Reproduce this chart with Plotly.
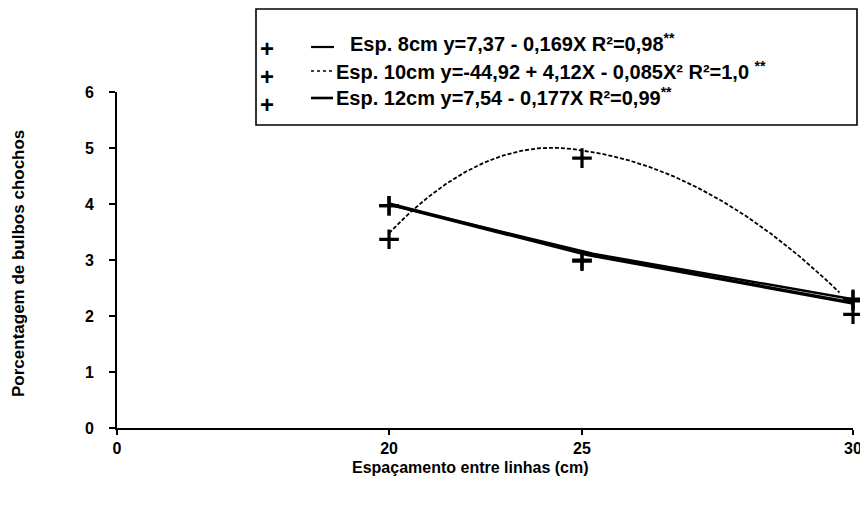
import numpy as np
import plotly.graph_objects as go

# ---------------- data ----------------
spacing_cm = [20, 25, 30]
esp8_obs = [3.97, 3.00, 2.30]
esp10_obs = [3.37, 4.82, 2.03]
esp12_obs = [3.97, 2.98, 2.27]

fit8 = [7.37, -0.169]            # a + bX
fit10 = [-44.92, 4.12, -0.085]   # a + bX + cX^2
fit12 = [7.54, -0.177]           # a + bX

x_tick_values = [0, 20, 25, 30]
x_tick_labels = ["0", "20", "25", "30"]
y_tick_values = [0, 1, 2, 3, 4, 5, 6]

legend_texts = [
    "Esp. 8cm y=7,37 - 0,169X R²=0,98<sup>**</sup>",
    "Esp. 10cm y=-44,92 + 4,12X - 0,085X² R²=1,0 <sup>**</sup>",
    "Esp. 12cm y=7,54 - 0,177X R²=0,99<sup>**</sup>",
]

# ---------------- layout geometry ----------------
W, H = 860, 507
ML, MR, MT, MB = 117, 7, 92, 79
PW, PH = W - ML - MR, H - MT - MB

# the original x axis is not linear: ticks sit at these fractions of the axis
x_tick_frac = [0.0, 0.3696, 0.6318, 1.0]


def xpos(v):
    return np.interp(v, x_tick_values, x_tick_frac)


def px(xp):
    return (xp - ML) / PW


def py(yp):
    return (H - MB - yp) / PH


FONT = "Liberation Sans"
BLACK = "#000000"

fig = go.Figure()

# regression curves
xs = np.linspace(20, 30, 201)
xs10 = np.linspace(20, 29.75, 201)
y8 = fit8[0] + fit8[1] * xs
y10 = fit10[0] + fit10[1] * xs10 + fit10[2] * xs10 ** 2
y12 = fit12[0] + fit12[1] * xs

fig.add_trace(go.Scatter(x=xpos(xs10), y=y10, mode="lines",
                         line=dict(color=BLACK, width=1.8, dash="4px,2px"),
                         hoverinfo="skip", showlegend=False))
fig.add_trace(go.Scatter(x=xpos(xs), y=y8, mode="lines",
                         line=dict(color=BLACK, width=2.5),
                         hoverinfo="skip", showlegend=False))
fig.add_trace(go.Scatter(x=xpos(xs), y=y12, mode="lines",
                         line=dict(color=BLACK, width=3.5),
                         hoverinfo="skip", showlegend=False))

marker = dict(symbol="cross-thin", size=14, color=BLACK,
              line=dict(color=BLACK, width=3.2))
for obs in (esp8_obs, esp10_obs, esp12_obs):
    fig.add_trace(go.Scatter(x=xpos(np.array(spacing_cm)), y=obs, mode="markers",
                             marker=marker, cliponaxis=False, showlegend=False))

shapes = []
annotations = []

# legend box
shapes.append(dict(type="rect", xref="paper", yref="paper",
                   x0=px(256), x1=px(857), y0=py(125), y1=py(9),
                   line=dict(color=BLACK, width=1.6), fillcolor="white", layer="above"))

row_text_y = [42, 70, 97]
row_plus_y = [48, 77, 104]
row_text_x = [348, 334, 334]
line_dash = ["solid", "dot", "solid"]
line_w = [2.2, 1.6, 2.6]
line_x = [(311, 334), (311, 333), (311, 333)]
line_dy = [5, 1, 1]

for i in range(3):
    annotations.append(dict(xref="paper", yref="paper", x=px(row_text_x[i]), y=py(row_text_y[i]),
                            xanchor="left", yanchor="middle", showarrow=False,
                            text="<b>" + legend_texts[i] + "</b>",
                            font=dict(family=FONT, size=20, color=BLACK)))
    annotations.append(dict(xref="paper", yref="paper", x=px(267), y=py(row_plus_y[i]),
                            xanchor="center", yanchor="middle", showarrow=False,
                            text="<b>+</b>", font=dict(family=FONT, size=24, color=BLACK)))
    ly = row_text_y[i] + line_dy[i]
    shapes.append(dict(type="line", xref="paper", yref="paper",
                       x0=px(line_x[i][0]), x1=px(line_x[i][1]), y0=py(ly), y1=py(ly),
                       line=dict(color=BLACK, width=line_w[i], dash=line_dash[i]), layer="above"))

# axis titles
annotations.append(dict(xref="paper", yref="paper", x=px(470), y=py(467),
                        xanchor="center", yanchor="middle", showarrow=False,
                        text="<b>Espaçamento entre linhas (cm)</b>",
                        font=dict(family=FONT, size=16, color=BLACK)))
annotations.append(dict(xref="paper", yref="paper", x=px(18), y=py(264),
                        xanchor="center", yanchor="middle", showarrow=False, textangle=-90,
                        text="<b>Porcentagem de bulbos chochos</b>",
                        font=dict(family=FONT, size=17, color=BLACK)))

fig.update_layout(
    width=W, height=H,
    margin=dict(l=ML, r=MR, t=MT, b=MB, autoexpand=False),
    paper_bgcolor="white", plot_bgcolor="white",
    showlegend=False,
    shapes=shapes, annotations=annotations,
    xaxis=dict(range=[0, 1], tickmode="array",
               tickvals=[float(v) for v in x_tick_frac], ticktext=x_tick_labels,
               showline=True, linecolor=BLACK, linewidth=2, automargin=False,
               ticks="outside", ticklen=5, tickwidth=1.5, tickcolor=BLACK,
               showgrid=False, zeroline=False, ticklabeloverflow="allow",
               tickfont=dict(family=FONT, size=16, color=BLACK, weight="bold")),
    yaxis=dict(range=[0, 6], tickmode="array", tickvals=y_tick_values,
               showline=True, linecolor=BLACK, linewidth=2, automargin=False,
               ticks="outside", ticklen=6, tickwidth=1.5, tickcolor=BLACK,
               showgrid=False, zeroline=False, ticklabelstandoff=12,
               tickfont=dict(family=FONT, size=16, color=BLACK, weight="bold")),
)

# remove the browser's default 8px body margin so the figure fills the window
fig.write_html("out.html", config={"displayModeBar": False},
               post_script="document.body.style.margin='0';document.body.style.overflow='hidden';")
